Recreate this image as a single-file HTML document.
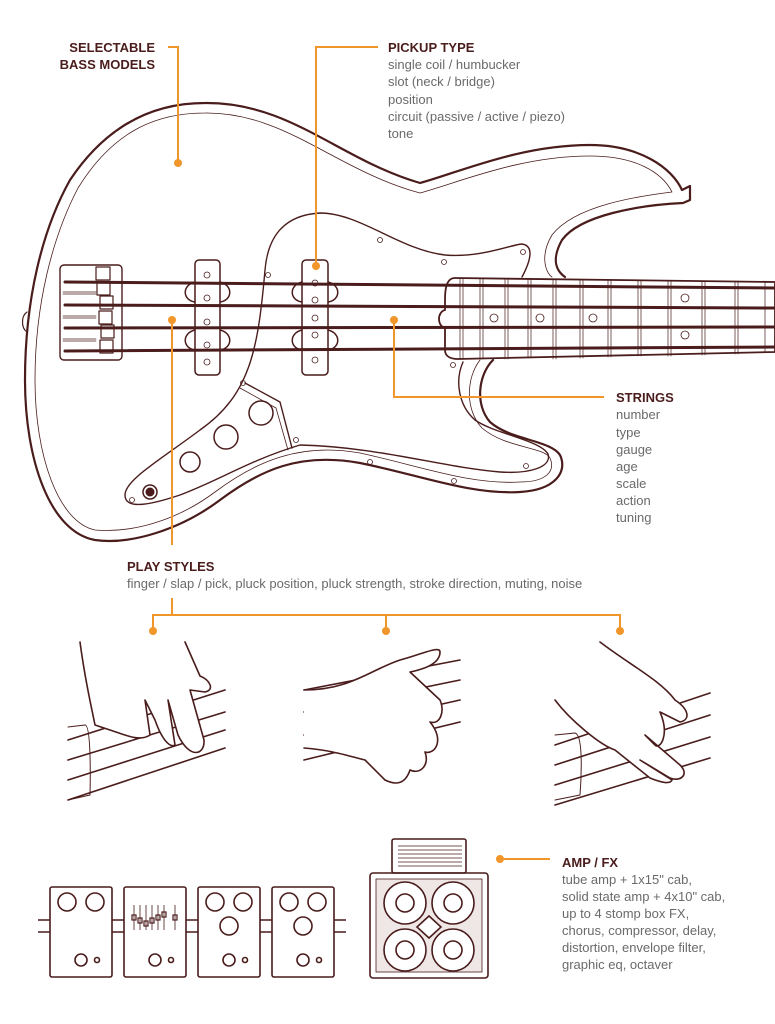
<!DOCTYPE html>
<html><head><meta charset="utf-8"><style>
html,body{margin:0;padding:0;background:#fff;}
svg{display:block;}
.h{font-family:"Liberation Sans",sans-serif;font-weight:bold;font-size:13px;fill:#4a1c1c;}
.t{font-family:"Liberation Sans",sans-serif;font-size:13px;fill:#6a6a6a;}
</style></head><body>
<svg width="775" height="1024" viewBox="0 0 775 1024" xmlns="http://www.w3.org/2000/svg">
<g fill="none" stroke="#4a1c1c" stroke-linejoin="round" stroke-linecap="round">
<!-- body -->
<path stroke-width="2.2" d="M205,103 C290,102 340,160 420,183 C460,172 520,145 590,145 C640,145 672,168 682,190 L690,186 L690,200 L683,203 C640,205 580,215 562,240 C552,258 555,270 565,277 M493,360 C478,375 475,405 490,422 C510,440 550,440 560,455 C568,472 555,490 520,492 C470,495 420,475 360,463 C300,452 260,470 220,500 C180,530 130,545 95,540 C50,532 25,460 25,380 C25,300 42,230 70,180 C110,120 160,103 205,103"/>
<path stroke-width="0.8" d="M205,113 C285,112 335,170 420,193 C460,182 520,156 590,156 C635,156 662,172 672,192 C640,196 575,205 552,235 C540,255 545,272 552,277 M480,360 C466,378 465,410 482,428 C505,448 545,447 550,458 C556,472 545,482 520,482 C470,485 420,466 360,453 C300,442 255,462 215,492 C175,522 130,533 95,530 C58,522 35,455 35,380 C35,305 52,238 78,188 C115,128 160,113 205,113"/>
<path stroke-width="1.2" d="M27,312 C21,316 21,328 27,332"/>
<!-- pickguard -->
<path stroke-width="1.4" d="M265,270 C268,235 285,215 320,213 C360,213 400,250 445,255 C480,258 510,245 522,244 C535,246 530,262 522,277 M463,362 C455,380 458,405 475,420 C495,434 540,440 548,454 C552,467 530,474 500,472 C440,467 380,447 300,445 C250,460 220,480 180,495 C150,505 125,510 125,495 C125,480 160,460 200,430 C250,395 258,350 265,270"/>
<path stroke-width="1.4" d="M245,383 L280,402 L292,448"/>
<path stroke-width="0.8" d="M240,388 L276,408 L288,450"/>
<!-- knobs -->
<g stroke-width="1.5"><circle cx="261" cy="413" r="12"/><circle cx="226" cy="437" r="12"/><circle cx="190" cy="462" r="10"/><circle cx="150" cy="492" r="7"/></g>
<circle cx="150" cy="492" r="4" fill="#4a1c1c"/>
<!-- bridge -->
<rect x="60" y="265" width="62" height="95" rx="4" stroke-width="1.4"/>
<g stroke-width="1.2"><rect x="96" y="267" width="14" height="13"/><rect x="97" y="282" width="13" height="13"/><rect x="100" y="296" width="13" height="13"/><rect x="99" y="311" width="13" height="13"/><rect x="101" y="325" width="13" height="13"/><rect x="100" y="340" width="13" height="13"/></g>
<g stroke-width="0.7"><path d="M63,292 h33 M63,294 h33 M63,316 h33 M63,318 h33 M63,339 h33 M63,341 h33"/></g>
<!-- pickups -->
<g stroke-width="1.5"><rect x="195" y="260" width="25" height="115" rx="4"/><rect x="302" y="260" width="26" height="115" rx="4"/>
<path d="M195,282 C182,285 182,300 195,302 M220,282 C233,285 233,300 220,302 M195,330 C182,333 182,348 195,350 M220,330 C233,333 233,348 220,350 M302,282 C289,285 289,300 302,302 M328,282 C341,285 341,300 328,302 M302,330 C289,333 289,348 302,350 M328,330 C341,333 341,348 328,350"/></g>
<g stroke-width="0.8"><circle cx="207" cy="275" r="3"/><circle cx="207" cy="298" r="3"/><circle cx="207" cy="322" r="3"/><circle cx="207" cy="345" r="3"/><circle cx="207" cy="362" r="3"/><circle cx="315" cy="283" r="3"/><circle cx="315" cy="300" r="3"/><circle cx="315" cy="318" r="3"/><circle cx="315" cy="335" r="3"/><circle cx="315" cy="360" r="3"/></g>
<!-- neck -->
<path stroke-width="1.8" fill="#fff" d="M775,282 L455,278 C446,278 445,290 445,300 L445,310 C437,312 437,326 445,328 L445,350 C445,356 450,359 458,359 L775,352 Z"/>
<g stroke-width="0.7"><path d="M460,279 v80 M463,279 v80 M480,279 v80 M483,279 v80 M505,279 v80 M508,279 v80 M528,279 v79 M531,279 v79 M553,280 v79 M556,280 v79 M580,280 v78 M583,280 v78 M608,280 v77 M611,280 v77 M638,280 v76 M641,280 v76 M668,281 v75 M671,281 v75 M702,281 v74 M705,281 v74 M735,281 v73 M738,281 v73 M765,282 v70"/></g>
<g stroke-width="0.8"><circle cx="494" cy="318" r="4"/><circle cx="540" cy="318" r="4"/><circle cx="593" cy="318" r="4"/><circle cx="685" cy="298" r="4"/><circle cx="685" cy="335" r="4"/></g>
<!-- strings -->
<g stroke-width="3"><path d="M65,282 L775,288"/><path d="M65,305 L775,308"/><path d="M65,328 L775,327"/><path d="M65,351 L775,347"/></g>
<!-- screws -->
<g stroke-width="0.8"><circle cx="268" cy="275" r="2.5"/><circle cx="380" cy="240" r="2.5"/><circle cx="444" cy="262" r="2.5"/><circle cx="523" cy="252" r="2.5"/><circle cx="453" cy="365" r="2.5"/><circle cx="243" cy="383" r="2.5"/><circle cx="296" cy="440" r="2.5"/><circle cx="370" cy="462" r="2.5"/><circle cx="454" cy="481" r="2.5"/><circle cx="526" cy="466" r="2.5"/><circle cx="132" cy="500" r="2.5"/></g>
</g>
<!-- annotations -->
<g stroke="#f0962a" stroke-width="2" fill="none"><path d="M168,47 H178 V163"/><path d="M378,47 H316 V266"/><path d="M604,397 H394 V320"/><path d="M172,320 V545"/><path d="M172,598 V615 M153,630 V615 H620 V630 M386,615 V630"/><path d="M498,859 H550"/></g>
<g fill="#f0962a"><circle cx="178" cy="163" r="4"/><circle cx="316" cy="266" r="4"/><circle cx="394" cy="320" r="4"/><circle cx="172" cy="320" r="4"/><circle cx="153" cy="631" r="4"/><circle cx="386" cy="631" r="4"/><circle cx="620" cy="631" r="4"/><circle cx="500" cy="859" r="4"/></g>
<text class="h" x="155" y="52" text-anchor="end">SELECTABLE</text>
<text class="h" x="155" y="69" text-anchor="end">BASS MODELS</text>
<text class="h" x="388" y="52">PICKUP TYPE</text>
<text class="t" x="388" y="69">single coil / humbucker</text>
<text class="t" x="388" y="86">slot (neck / bridge)</text>
<text class="t" x="388" y="104">position</text>
<text class="t" x="388" y="121">circuit (passive / active / piezo)</text>
<text class="t" x="388" y="138">tone</text>
<text class="h" x="616" y="402">STRINGS</text>
<text class="t" x="616" y="419">number</text><text class="t" x="616" y="437">type</text><text class="t" x="616" y="454">gauge</text><text class="t" x="616" y="471">age</text><text class="t" x="616" y="488">scale</text><text class="t" x="616" y="505">action</text><text class="t" x="616" y="522">tuning</text>
<text class="h" x="127" y="571">PLAY STYLES</text>
<text class="t" x="127" y="588">finger / slap / pick, pluck position, pluck strength, stroke direction, muting, noise</text>
<text class="h" x="562" y="867">AMP / FX</text>
<text class="t" x="562" y="884">tube amp + 1x15" cab,</text>
<text class="t" x="562" y="901">solid state amp + 4x10" cab,</text>
<text class="t" x="562" y="918">up to 4 stomp box FX,</text>
<text class="t" x="562" y="935">chorus, compressor, delay,</text>
<text class="t" x="562" y="952">distortion, envelope filter,</text>
<text class="t" x="562" y="969">graphic eq, octaver</text>
<!-- hands -->
<g fill="none" stroke="#4a1c1c" stroke-width="1.6" stroke-linecap="round" stroke-linejoin="round">
<path d="M68,740 L225,690 M68,760 L225,712 M68,780 L225,730 M68,800 L225,748"/>
<path stroke-width="1" d="M68,727 L85,725 C92,725 90,795 90,795 L68,800"/>
<path fill="#fff" d="M80,642 C85,680 90,700 95,725 L110,730 C125,735 140,742 150,735 L145,700 L155,720 C162,740 170,748 175,745 L168,700 L178,735 C190,760 205,755 204,740 L190,690 L205,692 C215,690 210,680 200,676 L185,642"/>
<path d="M304,690 L460,660 M304,712 L460,680 M304,735 L460,700 M304,760 L460,722"/>
<path fill="#fff" d="M304,690 C350,690 370,670 400,660 C420,655 440,645 440,652 C440,665 420,670 410,672 L440,700 C445,712 440,725 430,722 C445,740 435,755 425,752 C430,765 420,775 410,770 C405,785 395,785 385,780 L365,760 C345,755 330,750 304,748"/>
<path d="M555,745 L710,693 M555,765 L710,715 M555,785 L710,737 M555,805 L710,758"/>
<path stroke-width="1" d="M555,735 L575,733 C585,735 580,795 580,795 L555,800"/>
<path fill="#fff" d="M600,642 C630,665 660,680 675,700 C690,710 690,720 680,722 L660,712 C670,735 660,750 655,745 L645,735 L680,765 C690,775 680,782 670,778 L640,760 L672,780 C670,785 660,782 650,778 L615,750 C600,745 570,720 555,700"/>
</g>
<!-- pedals -->
<g fill="none" stroke="#4a1c1c" stroke-width="1.6">
<path d="M38,920 h12 M38,932 h12 M112,920 h12 M112,932 h12 M186,920 h12 M186,932 h12 M260,920 h12 M260,932 h12 M334,920 h12 M334,932 h12"/>
<rect x="50" y="887" width="62" height="90" rx="2"/><rect x="124" y="887" width="62" height="90" rx="2"/><rect x="198" y="887" width="62" height="90" rx="2"/><rect x="272" y="887" width="62" height="90" rx="2"/>
<circle cx="67" cy="902" r="9"/><circle cx="95" cy="902" r="9"/><circle cx="215" cy="902" r="9"/><circle cx="243" cy="902" r="9"/><circle cx="229" cy="926" r="9"/><circle cx="289" cy="902" r="9"/><circle cx="317" cy="902" r="9"/><circle cx="303" cy="926" r="9"/>
<circle cx="81" cy="960" r="6"/><circle cx="155" cy="960" r="6"/><circle cx="229" cy="960" r="6"/><circle cx="303" cy="960" r="6"/>
<circle cx="97" cy="960" r="2.5"/><circle cx="171" cy="960" r="2.5"/><circle cx="245" cy="960" r="2.5"/><circle cx="319" cy="960" r="2.5"/>
<path stroke-width="0.8" d="M134,905 v25 M140,905 v25 M146,905 v25 M152,905 v25 M158,905 v25 M164,905 v25 M175,905 v25"/>
<g stroke-width="1.2"><rect x="132" y="915" width="4" height="5"/><rect x="138" y="918" width="4" height="5"/><rect x="144" y="921" width="4" height="5"/><rect x="150" y="918" width="4" height="5"/><rect x="156" y="915" width="4" height="5"/><rect x="162" y="912" width="4" height="5"/><rect x="173" y="915" width="4" height="5"/></g>
<!-- amp -->
<rect x="392" y="839" width="74" height="34" rx="2"/>
<path stroke-width="0.8" d="M398,846 h64 M398,850 h64 M398,854 h64 M398,858 h64 M398,862 h64 M398,866 h64"/>
<rect x="370" y="873" width="118" height="105" rx="3"/>
<rect x="376" y="879" width="106" height="93" fill="#efe6e6" stroke-width="0.8"/>
<circle cx="405" cy="903" r="21" fill="#fff"/><circle cx="405" cy="903" r="9"/>
<circle cx="453" cy="903" r="21" fill="#fff"/><circle cx="453" cy="903" r="9"/>
<circle cx="405" cy="950" r="21" fill="#fff"/><circle cx="405" cy="950" r="9"/>
<circle cx="453" cy="950" r="21" fill="#fff"/><circle cx="453" cy="950" r="9"/>
<path d="M429,916 L441,927 L429,938 L417,927 Z" fill="#fff"/>
</g>
</svg>
</body></html>
